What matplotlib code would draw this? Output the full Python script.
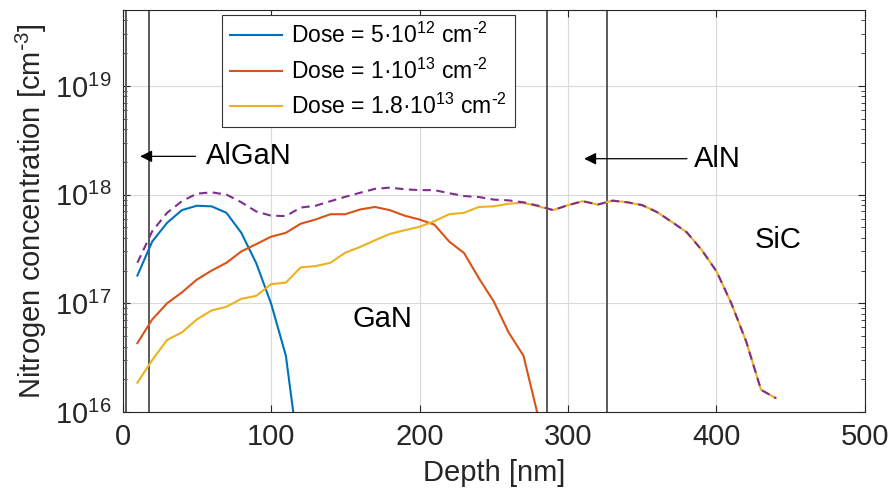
import numpy as np
import matplotlib
matplotlib.use("Agg")
import matplotlib.pyplot as plt
from matplotlib.ticker import LogLocator, NullFormatter

plt.rcParams['font.family'] = ['Liberation Sans', 'DejaVu Sans']
plt.rcParams['mathtext.default'] = 'regular'

# depth in nm
depth_blue = [10, 20, 30, 40, 50, 60, 70, 80, 90, 100, 110, 120]
conc_blue = [1.8e17, 3.7e17, 5.5e17, 7.2e17, 7.9e17, 7.8e17, 6.8e17, 4.45e17,
             2.35e17, 1.0e17, 3.3e16, 3e15]

depth_orange = [10, 20, 30, 40, 50, 60, 70, 80, 90, 100, 110, 120, 130, 140,
                150, 160, 170, 180, 190, 200, 210, 220, 230, 240, 250, 260,
                270, 280]
conc_orange = [4.3e16, 7.1e16, 1.0e17, 1.26e17, 1.65e17, 2.0e17, 2.36e17,
               3.0e17, 3.5e17, 4.1e17, 4.45e17, 5.4e17, 5.9e17, 6.6e17,
               6.6e17, 7.3e17, 7.7e17, 7.2e17, 6.4e17, 5.9e17, 5.3e17,
               3.7e17, 2.9e17, 1.7e17, 1.04e17, 5.4e16, 3.3e16, 9e15]

depth_yellow = [10, 20, 30, 40, 50, 60, 70, 80, 90, 100, 110, 120, 130, 140,
                150, 160, 170, 180, 190, 200, 210, 220, 230, 240, 250, 260,
                270, 280, 290, 300, 310, 320, 330, 340, 350, 360, 370, 380,
                390, 400, 410, 420, 430, 440]
conc_yellow = [1.86e16, 3.0e16, 4.6e16, 5.4e16, 7.1e16, 8.6e16, 9.3e16,
               1.1e17, 1.17e17, 1.5e17, 1.55e17, 2.14e17, 2.2e17, 2.36e17,
               2.92e17, 3.3e17, 3.8e17, 4.35e17, 4.7e17, 5.06e17, 5.7e17,
               6.6e17, 6.8e17, 7.7e17, 7.8e17, 8.25e17, 8.4e17, 7.8e17,
               7.2e17, 8.0e17, 8.7e17, 8.1e17, 8.8e17, 8.5e17, 8.0e17,
               6.9e17, 5.6e17, 4.5e17, 3.1e17, 1.97e17, 1.0e17, 4.45e16,
               1.6e16, 1.34e16]

depth_total = depth_yellow
conc_total = [2.36e17, 4.6e17, 6.8e17, 8.7e17, 1.02e18, 1.05e18, 1.0e18,
              8.5e17, 7.0e17, 6.4e17, 6.35e17, 7.6e17, 7.9e17, 8.7e17,
              9.55e17, 1.04e18, 1.13e18, 1.16e18, 1.12e18, 1.1e18, 1.1e18,
              1.03e18, 9.7e17, 9.5e17, 9.0e17, 8.85e17, 8.5e17, 7.9e17,
              7.2e17, 8.0e17, 8.7e17, 8.1e17, 8.8e17, 8.5e17, 8.0e17,
              6.9e17, 5.6e17, 4.5e17, 3.1e17, 1.97e17, 1.0e17, 4.45e16,
              1.6e16, 1.34e16]

labels = ['Dose = 5·10$^{12}$ cm$^{\\text{-}2}$',
          'Dose = 1·10$^{13}$ cm$^{\\text{-}2}$',
          'Dose = 1.8·10$^{13}$ cm$^{\\text{-}2}$']

interfaces = [2.5, 18, 286, 326]

ink = '#262626'
fig = plt.figure(figsize=(8.91, 4.98), dpi=100)
ax = fig.add_axes([0.1375, 0.1727, 0.8333, 0.8073])

ax.plot(depth_blue, conc_blue, color='#0072BD', lw=1.5, label=labels[0])
ax.plot(depth_orange, conc_orange, color='#D95319', lw=1.5, label=labels[1])
ax.plot(depth_yellow, conc_yellow, color='#EDB120', lw=1.5, label=labels[2])
ax.plot(depth_total, conc_total, color='#7E2F8E', lw=1.5,
        linestyle=(0, (4, 2.6)))

for xi in interfaces:
    ax.axvline(xi, color='#5a5a5a', lw=1.4, zorder=1)

ax.set_yscale('log')
ax.set_xlim(0, 500)
ax.set_ylim(1e16, 5e19)
ax.set_xticks([0, 100, 200, 300, 400, 500])
ax.yaxis.set_major_locator(LogLocator(base=10, numticks=10))
ax.yaxis.set_minor_locator(LogLocator(base=10, subs=np.arange(2, 10), numticks=10))
ax.yaxis.set_minor_formatter(NullFormatter())
ax.grid(True, which='major', color='#d9d9d9', lw=0.8)
ax.set_axisbelow(True)

ax.tick_params(which='both', direction='in', top=True, right=True,
               colors=ink, labelsize=21, pad=8)
ax.tick_params(which='major', length=5, width=0.8)
ax.tick_params(which='minor', length=3, width=0.6)
for s in ax.spines.values():
    s.set_color(ink)
    s.set_linewidth(0.8)

ax.set_xlabel('Depth [nm]', fontsize=21, color=ink, labelpad=6)
ax.set_ylabel('Nitrogen concentration [cm$^{\\text{-}3}$]', fontsize=21,
              color=ink, labelpad=4)

ax.annotate('', xy=(10, 2.25e18), xytext=(51, 2.25e18),
            arrowprops=dict(arrowstyle='-|>', color='black', lw=0.9,
                            mutation_scale=18))
ax.text(56, 2.25e18, 'AlGaN', fontsize=21, va='center', ha='left')
ax.annotate('', xy=(309, 2.14e18), xytext=(382, 2.14e18),
            arrowprops=dict(arrowstyle='-|>', color='black', lw=0.9,
                            mutation_scale=18))
ax.text(385, 2.14e18, 'AlN', fontsize=21, va='center', ha='left')
ax.text(155, 7.1e16, 'GaN', fontsize=21, va='center', ha='left')
ax.text(426, 3.85e17, 'SiC', fontsize=21, va='center', ha='left')

leg = ax.legend(loc='upper left', bbox_to_anchor=(0.1334, 0.9876),
                borderaxespad=0, fontsize=16.5, handlelength=2.3,
                fancybox=False, framealpha=1, edgecolor='#333333',
                labelspacing=0.45, borderpad=0.35, handletextpad=0.4)
leg.get_frame().set_linewidth(0.8)

fig.savefig('out.png', dpi=100)
